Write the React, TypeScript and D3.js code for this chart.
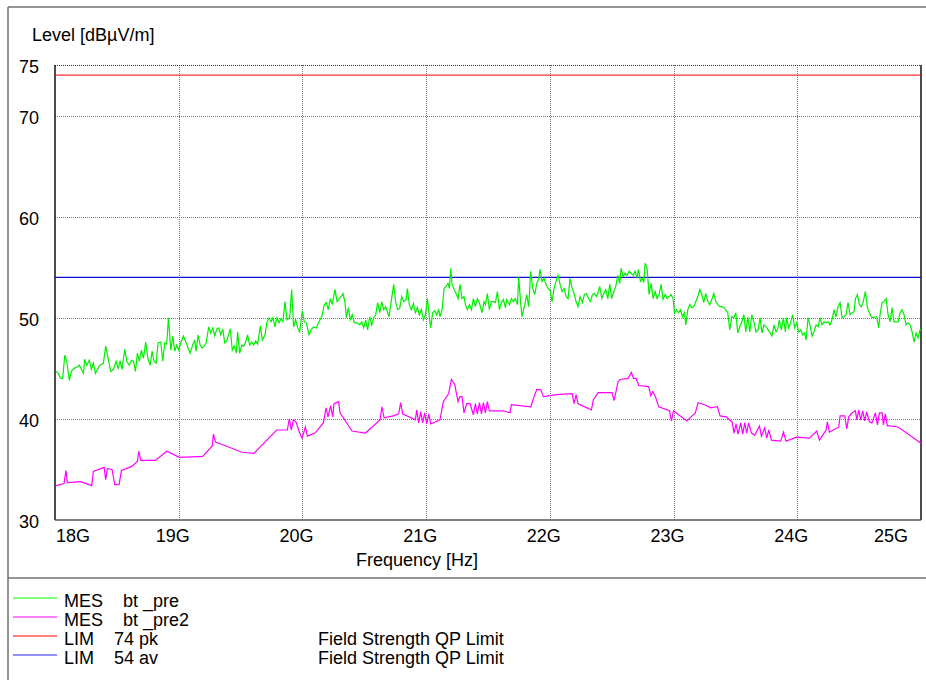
import { useEffect, useRef } from 'react';
import * as d3 from 'd3';

// frequency in MHz, level in dBµV/m
const mesPre: [number, number][] = [
  [18008, 44.7], [18027, 44.5], [18046, 44.0], [18062, 44.0], [18079, 46.3], [18095, 45.7], [18116, 43.8], [18132, 44.7],
  [18154, 45.0], [18176, 45.1], [18197, 45.3], [18213, 44.9], [18230, 44.5], [18240, 45.9], [18256, 45.3], [18278, 45.8],
  [18294, 44.9], [18310, 45.5], [18327, 44.5], [18343, 44.9], [18364, 45.3], [18391, 45.5], [18410, 47.2], [18429, 46.0],
  [18450, 44.7], [18472, 44.9], [18494, 45.7], [18510, 45.0], [18526, 45.7], [18542, 44.9], [18564, 46.9], [18580, 45.7],
  [18601, 45.3], [18618, 45.8], [18634, 45.7], [18650, 44.7], [18666, 46.5], [18682, 45.7], [18698, 46.8], [18715, 46.0],
  [18733, 47.6], [18750, 46.0], [18769, 45.3], [18785, 46.7], [18801, 45.7], [18817, 45.5], [18833, 47.5], [18855, 47.6],
  [18871, 45.7], [18887, 47.5], [18903, 47.4], [18917, 50.0], [18936, 46.8], [18952, 48.2], [18968, 46.7], [18984, 47.3],
  [19000, 46.8], [19016, 47.5], [19038, 48.2], [19054, 47.7], [19070, 47.2], [19092, 46.5], [19113, 47.3], [19130, 47.8],
  [19140, 46.7], [19157, 48.3], [19173, 47.3], [19189, 47.0], [19205, 47.2], [19221, 47.5], [19243, 49.1], [19259, 48.5],
  [19275, 49.0], [19291, 48.2], [19308, 48.9], [19324, 49.0], [19340, 48.3], [19356, 48.9], [19372, 47.5], [19388, 47.7],
  [19417, 48.9], [19433, 46.8], [19449, 47.2], [19466, 46.5], [19476, 48.6], [19493, 46.5], [19509, 47.3], [19525, 47.2],
  [19541, 47.6], [19557, 48.3], [19573, 47.3], [19590, 47.6], [19606, 47.3], [19622, 47.7], [19638, 47.4], [19660, 49.2],
  [19676, 47.8], [19697, 48.3], [19714, 49.6], [19730, 50.0], [19746, 49.6], [19762, 50.0], [19778, 49.1], [19794, 50.0],
  [19811, 49.5], [19827, 49.9], [19843, 49.6], [19859, 51.6], [19875, 49.8], [19897, 50.0], [19913, 52.8], [19929, 49.1],
  [19945, 49.8], [19962, 49.0], [19978, 48.6], [19988, 49.6], [19999, 50.7], [20015, 49.6], [20032, 49.5], [20053, 48.3],
  [20069, 48.8], [20091, 49.1], [20112, 49.0], [20129, 49.5], [20156, 50.1], [20177, 51.3], [20193, 51.5], [20209, 50.8],
  [20226, 51.9], [20242, 51.3], [20263, 52.8], [20280, 51.6], [20296, 51.9], [20312, 52.1], [20328, 52.4], [20344, 51.5],
  [20355, 50.0], [20371, 51.0], [20387, 49.8], [20403, 50.3], [20420, 49.5], [20441, 49.5], [20463, 49.3], [20479, 49.6],
  [20495, 49.0], [20511, 49.8], [20527, 48.8], [20544, 50.1], [20560, 49.3], [20576, 50.0], [20592, 50.3], [20608, 51.5],
  [20625, 50.5], [20641, 51.6], [20657, 50.8], [20673, 51.1], [20689, 50.5], [20700, 50.1], [20716, 51.5], [20738, 53.3],
  [20754, 51.5], [20770, 50.8], [20786, 50.9], [20802, 52.1], [20818, 51.6], [20838, 51.8], [20848, 52.9], [20864, 51.3],
  [20881, 50.8], [20897, 51.4], [20913, 50.5], [20929, 51.0], [20945, 50.3], [20961, 50.8], [20978, 49.8], [20994, 50.3],
  [21010, 51.9], [21026, 50.0], [21037, 49.0], [21053, 50.5], [21069, 50.7], [21085, 50.3], [21102, 50.8], [21112, 50.1],
  [21129, 50.8], [21145, 52.9], [21161, 53.1], [21177, 53.4], [21188, 52.9], [21199, 54.9], [21209, 53.3], [21226, 52.8],
  [21242, 52.4], [21258, 51.9], [21274, 53.3], [21290, 51.9], [21306, 52.1], [21317, 51.3], [21333, 50.8], [21350, 51.3],
  [21366, 50.8], [21382, 51.9], [21398, 51.1], [21414, 51.9], [21430, 51.5], [21452, 50.5], [21468, 51.6], [21479, 51.3],
  [21495, 52.4], [21511, 50.8], [21527, 51.6], [21544, 51.6], [21560, 51.5], [21576, 52.6], [21592, 50.8], [21608, 51.5],
  [21624, 51.8], [21641, 51.0], [21651, 51.8], [21673, 51.3], [21689, 51.9], [21705, 51.6], [21721, 51.9], [21738, 51.3],
  [21748, 54.0], [21765, 51.3], [21775, 50.1], [21797, 51.3], [21813, 52.3], [21829, 51.1], [21845, 54.6], [21862, 52.9],
  [21878, 52.3], [21894, 53.4], [21910, 53.8], [21921, 54.8], [21937, 53.6], [21953, 53.9], [21969, 53.3], [21986, 52.9],
  [22002, 52.7], [22018, 51.6], [22034, 52.9], [22050, 53.6], [22066, 54.2], [22083, 53.3], [22099, 52.6], [22115, 52.9],
  [22131, 52.1], [22147, 51.9], [22163, 53.9], [22180, 52.9], [22196, 52.4], [22212, 51.6], [22228, 51.1], [22244, 52.1],
  [22263, 51.5], [22279, 52.3], [22296, 52.4], [22312, 51.9], [22328, 51.6], [22344, 52.3], [22360, 52.4], [22376, 52.1],
  [22393, 52.6], [22403, 53.1], [22420, 51.9], [22436, 52.4], [22452, 52.8], [22468, 51.9], [22484, 53.3], [22500, 51.9],
  [22517, 52.6], [22533, 53.1], [22549, 54.2], [22565, 53.4], [22576, 54.9], [22592, 54.1], [22608, 54.4], [22624, 54.2],
  [22641, 54.6], [22657, 54.4], [22673, 54.2], [22689, 54.6], [22705, 53.9], [22716, 54.8], [22732, 53.6], [22748, 53.9],
  [22759, 53.5], [22770, 55.4], [22786, 54.9], [22802, 52.3], [22818, 53.4], [22835, 51.9], [22851, 52.6], [22867, 51.9],
  [22883, 52.3], [22899, 53.3], [22915, 51.8], [22932, 52.3], [22948, 51.9], [22964, 52.1], [22980, 52.3], [22996, 51.9],
  [23007, 50.5], [23023, 50.8], [23039, 50.5], [23056, 50.8], [23072, 50.1], [23088, 50.5], [23099, 49.3], [23115, 50.8],
  [23131, 51.3], [23147, 51.0], [23163, 51.1], [23180, 51.6], [23196, 52.1], [23212, 52.8], [23228, 52.3], [23244, 51.5],
  [23260, 52.4], [23277, 51.6], [23293, 51.3], [23309, 51.8], [23325, 52.4], [23341, 51.6], [23357, 51.3], [23374, 51.1],
  [23390, 51.1], [23406, 51.0], [23422, 50.8], [23438, 50.5], [23454, 48.8], [23471, 50.1], [23487, 50.0], [23503, 50.5],
  [23519, 48.5], [23535, 49.1], [23552, 49.6], [23568, 50.3], [23584, 48.6], [23600, 50.1], [23616, 48.6], [23632, 50.3],
  [23649, 49.6], [23667, 48.6], [23683, 48.8], [23699, 50.0], [23715, 48.5], [23731, 49.3], [23747, 49.1], [23764, 48.8],
  [23780, 48.5], [23796, 48.2], [23812, 49.3], [23828, 48.6], [23844, 49.0], [23855, 49.8], [23871, 48.8], [23888, 50.0],
  [23904, 48.6], [23914, 50.0], [23931, 49.0], [23947, 49.6], [23963, 50.3], [23979, 49.0], [23995, 49.5], [24011, 48.6],
  [24028, 48.8], [24044, 48.3], [24060, 48.5], [24071, 47.8], [24087, 50.0], [24103, 49.3], [24119, 48.2], [24135, 48.6],
  [24152, 49.3], [24168, 49.1], [24184, 50.0], [24200, 49.3], [24216, 49.6], [24232, 49.5], [24249, 49.6], [24265, 49.3],
  [24281, 49.8], [24297, 50.8], [24313, 50.1], [24329, 51.1], [24346, 51.5], [24362, 50.0], [24378, 50.1], [24394, 50.3],
  [24410, 51.5], [24427, 50.3], [24443, 50.5], [24459, 50.6], [24470, 51.9], [24486, 52.3], [24502, 51.3], [24518, 51.1],
  [24534, 51.6], [24550, 52.6], [24567, 51.0], [24583, 50.5], [24599, 50.1], [24615, 50.0], [24631, 50.1], [24642, 50.1],
  [24658, 49.0], [24669, 50.3], [24685, 51.5], [24701, 51.6], [24718, 51.9], [24734, 50.3], [24750, 49.6], [24766, 51.0],
  [24782, 49.6], [24798, 49.6], [24815, 49.6], [24831, 50.5], [24847, 50.8], [24863, 50.3], [24879, 49.3], [24895, 49.5],
  [24912, 49.3], [24928, 48.6], [24944, 47.6], [24960, 48.5], [24976, 48.0], [24992, 48.8], [25000, 48.8],
];

const mesPre2: [number, number][] = [
  [18009, 33.4], [18073, 33.6], [18089, 34.9], [18100, 33.7], [18208, 33.8], [18297, 33.4], [18310, 34.8], [18397, 35.2],
  [18410, 34.0], [18424, 35.1], [18461, 35.0], [18483, 33.5], [18518, 33.5], [18537, 34.9], [18620, 35.3], [18666, 35.8],
  [18677, 36.8], [18693, 35.9], [18812, 35.9], [18903, 36.8], [19006, 36.2], [19194, 36.3], [19270, 37.3], [19281, 38.5],
  [19297, 37.7], [19388, 37.3], [19510, 36.7], [19609, 36.6], [19657, 37.2], [19792, 38.9], [19878, 38.9], [19894, 40.0],
  [19910, 38.9], [19927, 39.9], [19948, 39.7], [19975, 38.7], [19997, 38.1], [20024, 39.2], [20040, 38.3], [20102, 38.6],
  [20169, 39.6], [20191, 41.1], [20207, 40.2], [20228, 41.3], [20245, 40.2], [20255, 41.5], [20293, 41.7], [20304, 40.6],
  [20401, 38.8], [20509, 38.6], [20627, 39.9], [20643, 41.2], [20660, 40.1], [20735, 40.3], [20778, 40.5], [20794, 41.6],
  [20810, 40.5], [20913, 39.9], [20924, 40.9], [20940, 39.6], [20956, 40.7], [20972, 39.6], [20988, 40.6], [21005, 39.5],
  [21021, 40.5], [21037, 39.5], [21112, 39.9], [21139, 41.7], [21182, 42.5], [21204, 43.9], [21231, 43.4], [21258, 41.7],
  [21274, 42.2], [21290, 42.2], [21306, 40.6], [21328, 41.5], [21355, 41.5], [21382, 40.4], [21398, 41.5], [21414, 40.5],
  [21431, 41.6], [21447, 40.5], [21463, 41.6], [21479, 40.6], [21495, 41.7], [21511, 40.8], [21625, 40.8], [21678, 40.6],
  [21689, 41.4], [21846, 41.2], [21872, 42.2], [21894, 42.9], [21926, 42.9], [21948, 42.2], [22056, 42.4], [22180, 42.5],
  [22196, 41.5], [22212, 42.4], [22228, 41.5], [22336, 40.9], [22352, 41.9], [22390, 42.6], [22503, 42.6], [22519, 41.8],
  [22552, 43.7], [22568, 43.9], [22632, 44.0], [22659, 44.6], [22676, 44.0], [22697, 44.0], [22719, 43.3], [22799, 43.2],
  [22816, 42.3], [22832, 42.7], [22853, 42.2], [22880, 41.2], [22967, 40.8], [22983, 39.8], [22999, 40.8], [23107, 39.8],
  [23133, 40.1], [23176, 40.6], [23198, 41.6], [23252, 41.4], [23300, 41.1], [23354, 41.2], [23376, 40.3], [23424, 40.2],
  [23473, 39.7], [23489, 38.6], [23505, 39.5], [23521, 38.5], [23543, 39.6], [23559, 38.5], [23575, 39.6], [23591, 38.6],
  [23607, 39.6], [23629, 38.6], [23656, 38.4], [23694, 39.3], [23710, 38.3], [23737, 39.1], [23753, 38.1], [23769, 38.9],
  [23791, 37.9], [23866, 37.8], [23888, 38.7], [23909, 37.8], [23995, 38.2], [24098, 38.1], [24157, 38.8], [24179, 37.9],
  [24233, 38.9], [24243, 39.7], [24260, 38.7], [24335, 39.2], [24346, 40.3], [24384, 40.3], [24400, 39.0], [24416, 40.2],
  [24443, 40.6], [24470, 40.8], [24481, 39.9], [24497, 40.9], [24513, 39.9], [24529, 40.8], [24545, 39.8], [24561, 40.7],
  [24583, 39.7], [24604, 39.6], [24631, 40.6], [24648, 39.4], [24664, 40.6], [24686, 40.6], [24696, 39.4], [24712, 40.5],
  [24728, 39.3], [24745, 39.3], [24815, 39.2], [25000, 37.6],
];

const limitPk = 74;
const limitAv = 54;

const xTicks = [18000, 19000, 20000, 21000, 22000, 23000, 24000, 25000];
const xTickLabels = ['18G', '19G', '20G', '21G', '22G', '23G', '24G', '25G'];
const yTicks = [30, 40, 50, 60, 70, 75];
const yGrid = [40, 50, 60, 70];

const legendKinds = ['MES', 'MES', 'LIM', 'LIM'];
const legendNames = ['bt _pre', 'bt _pre2', '74 pk', '54 av'];
const legendNotes = ['', '', 'Field Strength QP Limit', 'Field Strength QP Limit'];

const GREEN = '#00ee00';
const MAGENTA = '#ff00ff';
const RED = '#ff0000';
const BLUE = '#1010d0';
const legendColors = ['#00ff00', MAGENTA, RED, '#2020ff'];

export default function App() {
  const svgRef = useRef<SVGSVGElement>(null);

  useEffect(() => {
    if (!svgRef.current) return;
    const W = 926;
    const H = 680;
    const plot = { left: 55, right: 921, top: 65, bottom: 520 };

    const svg = d3.select(svgRef.current);
    svg.selectAll('*').remove();
    svg.attr('width', W).attr('height', H).attr('font-family', 'Liberation Sans, Arial, sans-serif');

    const x = d3.scaleLinear().domain([18000, 25000]).range([plot.left, plot.right]);
    const y = d3.scaleLinear().domain([30, 75]).range([plot.bottom, plot.top]);

    // outer frame
    const frame = svg.append('g').attr('stroke', '#707070').attr('stroke-width', 1.5).attr('fill', 'none');
    frame.append('line').attr('x1', 8).attr('x2', 8).attr('y1', 7).attr('y2', H);
    frame.append('line').attr('x1', 8).attr('x2', W).attr('y1', 7).attr('y2', 7);
    frame.append('line').attr('x1', 8).attr('x2', W).attr('y1', 578).attr('y2', 578);

    svg.append('text').attr('x', 32).attr('y', 41).attr('font-size', 18).text('Level [dBµV/m]');

    // grid
    const grid = svg
      .append('g')
      .attr('stroke', '#777')
      .attr('stroke-dasharray', '1 1')
      .attr('shape-rendering', 'crispEdges');
    grid
      .selectAll('.gx')
      .data(xTicks.slice(1, -1))
      .enter()
      .append('line')
      .attr('x1', (d) => Math.round(x(d)) + 0.5)
      .attr('x2', (d) => Math.round(x(d)) + 0.5)
      .attr('y1', plot.top)
      .attr('y2', plot.bottom);
    grid
      .selectAll('.gy')
      .data(yGrid)
      .enter()
      .append('line')
      .attr('x1', plot.left)
      .attr('x2', plot.right)
      .attr('y1', (d) => Math.round(y(d)) + 0.5)
      .attr('y2', (d) => Math.round(y(d)) + 0.5);
    svg
      .append('line')
      .attr('x1', plot.left)
      .attr('x2', plot.right)
      .attr('y1', plot.top + 0.5)
      .attr('y2', plot.top + 0.5)
      .attr('stroke', '#333')
      .attr('stroke-dasharray', '1 1')
      .attr('shape-rendering', 'crispEdges');

    // plot border
    const border = svg.append('g').attr('stroke', '#111').attr('stroke-width', 1.5).attr('fill', 'none');
    border.append('line').attr('x1', plot.left).attr('x2', plot.left).attr('y1', plot.top).attr('y2', plot.bottom);
    border.append('line').attr('x1', plot.right).attr('x2', plot.right).attr('y1', plot.top).attr('y2', plot.bottom);
    border
      .append('line')
      .attr('x1', plot.left)
      .attr('x2', plot.right)
      .attr('y1', plot.bottom)
      .attr('y2', plot.bottom)
      .attr('stroke', '#555');

    // axis labels
    svg
      .selectAll('.ytick')
      .data(yTicks)
      .enter()
      .append('text')
      .attr('x', 39)
      .attr('y', (d) => y(d) + 8)
      .attr('text-anchor', 'end')
      .attr('font-size', 18)
      .text((d) => d);

    svg
      .selectAll('.xtick')
      .data(xTicks)
      .enter()
      .append('text')
      .attr('x', (d, i) => (i === 0 ? 56 : i === xTicks.length - 1 ? 908 : x(d) - 6))
      .attr('y', 542)
      .attr('text-anchor', (d, i) => (i === 0 ? 'start' : i === xTicks.length - 1 ? 'end' : 'middle'))
      .attr('font-size', 18)
      .text((d, i) => xTickLabels[i]);

    svg
      .append('text')
      .attr('x', 417)
      .attr('y', 566)
      .attr('text-anchor', 'middle')
      .attr('font-size', 18)
      .text('Frequency [Hz]');

    // limit lines
    svg
      .append('line')
      .attr('x1', plot.left)
      .attr('x2', plot.right)
      .attr('y1', y(limitPk))
      .attr('y2', y(limitPk))
      .attr('stroke', RED)
      .attr('stroke-width', 1);
    svg
      .append('line')
      .attr('x1', plot.left)
      .attr('x2', plot.right)
      .attr('y1', y(limitAv))
      .attr('y2', y(limitAv))
      .attr('stroke', BLUE)
      .attr('stroke-width', 1.4);

    const line = d3
      .line<[number, number]>()
      .x((d) => x(d[0]))
      .y((d) => y(d[1]));

    svg
      .append('path')
      .datum(mesPre2)
      .attr('fill', 'none')
      .attr('stroke', MAGENTA)
      .attr('stroke-width', 1.2)
      .attr('d', line);

    svg
      .append('path')
      .datum(mesPre)
      .attr('fill', 'none')
      .attr('stroke', GREEN)
      .attr('stroke-width', 1.2)
      .attr('d', line);

    // legend
    const legend = svg.append('g').attr('font-size', 18);
    legendKinds.forEach((kind, i) => {
      const base = 606.5 + i * 19.2;
      const ly = Math.round(base - 9);
      legend
        .append('line')
        .attr('x1', 13)
        .attr('x2', 57)
        .attr('y1', ly)
        .attr('y2', ly)
        .attr('stroke', legendColors[i])
        .attr('stroke-width', 1.2);
      legend.append('text').attr('x', 64).attr('y', base).text(kind);
      legend
        .append('text')
        .attr('x', kind === 'MES' ? 123 : 114)
        .attr('y', base)
        .text(legendNames[i]);
      if (legendNotes[i]) legend.append('text').attr('x', 318).attr('y', base).text(legendNotes[i]);
    });
  }, []);

  return (
    <div style={{ position: 'absolute', left: 0, top: 0, background: '#fff' }}>
      <svg ref={svgRef} />
    </div>
  );
}
